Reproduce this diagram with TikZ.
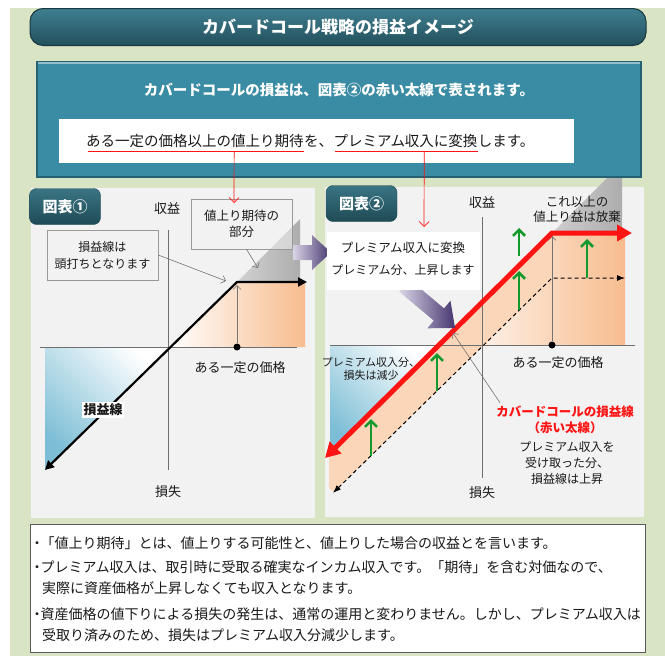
\documentclass[tikz,border=0pt]{standalone}
\usepackage{fontspec}
\setmainfont{Noto Sans CJK JP}
\usetikzlibrary{arrows.meta,calc}
\definecolor{bggreen}{HTML}{D8E4C3}
\definecolor{panelgray}{HTML}{F2F2F2}
\definecolor{boxteal}{HTML}{3A8BA4}
\definecolor{boxtealdark}{HTML}{236173}
\definecolor{titledark}{HTML}{234F5C}
\definecolor{titlelight}{HTML}{3F7F90}
\definecolor{labeldark}{HTML}{1F4A55}
\definecolor{labellight}{HTML}{3A7584}
\definecolor{myred}{HTML}{FF1414}
\definecolor{mygreen}{HTML}{139A2C}
\definecolor{mypurple}{HTML}{45356F}
\definecolor{purplelight}{HTML}{DAD4E6}
\definecolor{orangedeep}{HTML}{F7BC8E}
\definecolor{peach}{HTML}{FBD6B8}
\definecolor{bluedeep}{HTML}{7DBED6}
\definecolor{axisgray}{HTML}{6E6E6E}
\definecolor{graytri}{HTML}{ADADAD}
\begin{document}
\begin{tikzpicture}[x=1pt,y=-1pt,
  txt/.style={inner sep=0pt,align=center,text=black!90,font=\fontsize{12.5}{15}\selectfont},
  wseg/.style={inner sep=0pt,text=black!90,font=\fontsize{14.5}{17}\selectfont},
  note/.style={inner sep=0pt,text=black!90,font=\fontsize{14}{16}\selectfont,anchor=west},
  calloutbox/.style={draw=black!40,line width=0.6pt},
  axis/.style={draw=axisgray,line width=0.8pt},
  thinarrow/.style={draw=black!55,line width=0.6pt,-{Straight Barb[length=4pt,width=8pt]}},
  redpointer/.style={draw=myred,line width=0.7pt,-{Straight Barb[length=5pt,width=10pt]}},
  greenup/.style={draw=mygreen,line width=2.6pt,-{Straight Barb[length=6pt,width=12pt]}},
  figlabel/.style={rounded corners=7pt,top color=labellight,bottom color=labeldark,draw=labeldark,
    text=white,font=\fontsize{15}{18}\selectfont\bfseries,minimum width=71pt,minimum height=36pt,inner sep=0pt},
  dot/.style={circle,fill=black,inner sep=0pt,minimum size=7pt},
]
\useasboundingbox (0,0) rectangle (665,656);
\fill[white] (0,0) rectangle (665,656);
\fill[bggreen] (10,8) rectangle (665,656);

% ---------- panels
\fill[panelgray] (31,188) rectangle (315,518);
\fill[panelgray] (325,187) rectangle (644,517);

% ---------- left panel
\shade[left color=white,right color=orangedeep] (168,347) -- (237,282) -- (305,282) -- (305,347) -- cycle;
\shade[top color=white,bottom color=bluedeep,shading angle=-45] (45,347) -- (168,347) -- (45,470) -- cycle;
\draw[axis] (40,347) -- (297,347);
\draw[axis] (168,230) -- (168,470);
\shade[left color=graytri!55,right color=graytri] (237,282) -- (300,219) -- (300,282) -- cycle;
\node[calloutbox,fill=panelgray,fill opacity=0.55,text opacity=1,minimum width=101pt,minimum height=50pt,
  txt,font=\fontsize{12.5}{16}\selectfont] (box2) at (241.5,224) {値上り期待の\\部分};
\node[calloutbox,fill=panelgray,minimum width=111pt,minimum height=50pt,
  txt,font=\fontsize{12}{17}\selectfont] (box1) at (102.5,255) {損益線は\\頭打ちとなります};
\coordinate (L1a) at (45,470);
\coordinate (L1k) at (237,282);
\coordinate (L1b) at (307,282);
\node[dot] (d1) at (237,347) {};
\draw[thinarrow] (d1) -- (237,285);
\draw[line width=2.2pt,{Triangle[length=9pt,width=9pt]}-{Triangle[length=9pt,width=9pt]}] (L1a) -- (L1k) -- (L1b);
\coordinate (c1) at (226,281);
\coordinate (c2) at (258,268);
\draw[thinarrow] (box1.east) -- (c1);
\draw[thinarrow] ($(box2.south)+(5,0)$) -- (c2);
\node[txt,font=\fontsize{13}{15}\selectfont] (rev1) at (167,209) {収益};
\node[txt,font=\fontsize{13}{15}\selectfont] (loss1) at (168,492) {損失};
\node[txt,font=\fontsize{13}{15}\selectfont] (price1) at (240,368) {ある一定の価格};
\node[txt,fill=white,inner sep=1.5pt,font=\fontsize{13}{15}\selectfont\bfseries] (pl1) at (103,410) {損益線};

% ---------- right panel
\shade[left color=graytri!60,right color=graytri] (552,233) -- (622,163) -- (622,233) -- cycle;
\shade[top color=white,bottom color=bluedeep,shading angle=-45] (330,345) -- (439,345) -- (330,456) -- cycle;
\shade[left color=white,right color=orangedeep] (439,345) -- (552,233) -- (625,233) -- (625,345) -- cycle;
\fill[peach] (329,456) -- (552,233) -- (552,278) -- (334,492) -- (329,488) -- cycle;
\draw[axis] (330,345) -- (635,345);
\draw[axis] (482,217) -- (482,478);
\coordinate (R2a) at (325,458);
\coordinate (R2k) at (552,233);
\coordinate (R2b) at (632,233);
\coordinate (D2a) at (333,493);
\coordinate (D2k) at (552,278);
\coordinate (D2b) at (625,278);
\node[dot] (d2) at (552,345) {};
\draw[thinarrow] (d2) -- (552,236);
\draw[line width=1pt,dash pattern=on 4pt off 3pt,{Latex[length=8pt,width=6pt]}-{Latex[length=8pt,width=6pt]}] (D2a) -- (D2k) -- (D2b);
\draw[greenup] (371,456) -- (371,419);
\draw[greenup] (437,391) -- (437,353);
\draw[greenup] (519,310) -- (519,271);
\draw[greenup] (519,256) -- (519,228);
\draw[greenup] (587,278) -- (587,239);
\draw[myred,line width=5pt,{Triangle[length=15pt,width=16pt]}-{Triangle[length=15pt,width=16pt]}] (R2a) -- (R2k) -- (R2b);

% purple arrows
\shade[left color=purplelight,right color=mypurple] (293,245) -- (312,245) -- (312,235) -- (331,252.5) -- (312,270) -- (312,260) -- (293,260) -- cycle;
\begin{scope}[shift={(455,328)},rotate=-40]
\shade[left color=purplelight,right color=mypurple] (-66,-8) -- (-21,-8) -- (-21,-18) -- (0,0) -- (-21,18) -- (-21,8) -- (-66,8) -- cycle;
\end{scope}
\node[fill=white,minimum width=153pt,minimum height=58pt,inner sep=0pt] (wb2) at (403.5,261) {};
\node[txt,font=\fontsize{12.5}{15}\selectfont] (conv1) at (403,248) {プレミアム収入に変換};
\node[txt,font=\fontsize{12}{15}\selectfont] (conv2) at (403,270) {プレミアム分、上昇します};

\node[txt,font=\fontsize{13}{15}\selectfont] (rev2) at (482,203) {収益};
\node[txt,font=\fontsize{13}{15}\selectfont] (loss2) at (482,493) {損失};
\node[txt,font=\fontsize{12.5}{15}\selectfont] (giveup) at (577,209.5) {これ以上の\\値上り益は放棄};
\node[txt,font=\fontsize{13}{15}\selectfont] (price2) at (558,363) {ある一定の価格};
\node[txt,font=\fontsize{11}{13}\selectfont] (less) at (371,368.5) {プレミアム収入分、\\損失は減少};
\node[txt,text=myred,font=\fontsize{12.5}{16}\selectfont\bfseries] (ccl) at (565,420) {カバードコールの損益線\\（赤い太線）};
\node[txt,font=\fontsize{12}{16}\selectfont] (ccl2) at (567,463) {プレミアム収入を\\受け取った分、\\損益線は上昇};
\coordinate (p2) at (453,333);
\draw[thinarrow] ($(ccl.north west)+(4,-3)$) -- (p2);

% ---------- header
\node[rounded corners=13pt,top color=titlelight,bottom color=titledark,draw=titledark!70!black,line width=1pt,
  minimum width=616pt,minimum height=37pt,text=white,font=\fontsize{17}{20}\selectfont\bfseries] (title) at (338,27) {カバードコール戦略の損益イメージ};
\node[fill=boxteal,draw=boxtealdark,line width=1.5pt,minimum width=604pt,minimum height=115pt,inner sep=0pt] (head) at (339,119.5) {};
\draw[boxteal!55!white,line width=2pt] ($(head.north west)+(2,2)$) -- ($(head.north east)+(-2,2)$);
\node[text=white,inner sep=0pt,font=\fontsize{14.5}{17}\selectfont\bfseries] (headtxt) at (339,90) {カバードコールの損益は、図表②の赤い太線で表されます。};
\node[fill=white,minimum width=515pt,minimum height=44pt,inner sep=0pt] (wbox) at (316.5,141) {};
\node[wseg,anchor=west] (t1) at (86,141) {ある一定の価格以上の値上り期待};
\node[wseg,anchor=base west] (t2) at (t1.base east) {を、};
\node[wseg,anchor=base west] (t3) at (t2.base east) {プレミアム収入に変換};
\node[wseg,anchor=base west] (t4) at (t3.base east) {します。};
\draw[myred,line width=1pt] ($(t1.base west)+(2,5)$) -- ($(t1.base east)+(0,5)$);
\draw[myred,line width=1pt] ($(t3.base west)+(2,5)$) -- ($(t3.base east)+(0,5)$);
\coordinate (a1) at (234,203);
\coordinate (a2) at (424,227);
\draw[redpointer] ($(t1.base west)!0.68!(t1.base east)+(0,5)$) -- (a1);
\draw[redpointer] ($(t3.base west)!0.63!(t3.base east)+(0,5)$) -- (a2);

\node[figlabel] (fig1) at (65,206.5) {図表①};
\node[figlabel] (fig2) at (361.5,203.5) {図表②};

% ---------- notes
\node[draw=black!65,fill=white,line width=0.8pt,minimum width=615pt,minimum height=128pt,inner sep=0pt] (notes) at (337.5,588) {};
\node[note] (n1) at (30,543) {・\hspace{-3.5pt}「値上り期待」とは、値上りする可能性と、値上りした場合の収益とを言います。};
\node[note] (n2) at (30,567) {・\hspace{-3.5pt}プレミアム収入は、取引時に受取る確実なインカム収入です。「期待」を含む対価なので、};
\node[note] (n3) at (42,588) {実際に資産価格が上昇しなくても収入となります。};
\node[note] (n4) at (30,614) {・\hspace{-3.5pt}資産価格の値下りによる損失の発生は、通常の運用と変わりません。しかし、プレミアム収入は};
\node[note] (n5) at (42,635) {受取り済みのため、損失はプレミアム収入分減少します。};
\end{tikzpicture}
\end{document}
